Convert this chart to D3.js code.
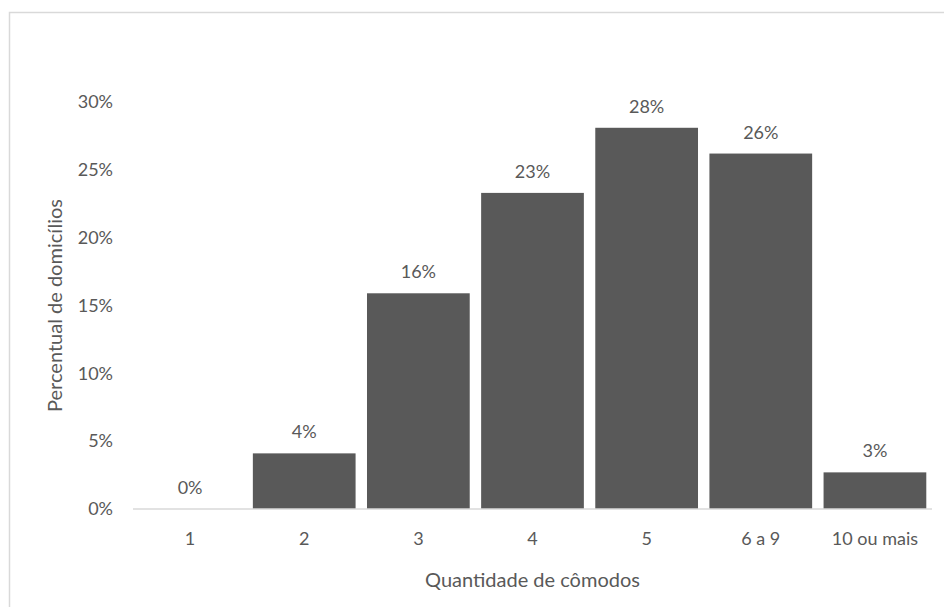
<!DOCTYPE html>
<html>
<head>
<meta charset="utf-8">
<script src="https://cdn.jsdelivr.net/npm/d3@7"></script>
<style>
  html, body { margin: 0; padding: 0; background: #fff; }
  svg { display: block; }
  text { font-family: Lato, "Open Sans", sans-serif; fill: #595959; }
</style>
</head>
<body>
<svg id="chart" width="944" height="607"></svg>
<script>
// Distribution of households by number of rooms
const categories = ["1", "2", "3", "4", "5", "6 a 9", "10 ou mais"];
const shares = [0.0, 4.1, 15.9, 23.3, 28.1, 26.2, 2.7];
const labels = ["0%", "4%", "16%", "23%", "28%", "26%", "3%"];
const yTicks = [0, 5, 10, 15, 20, 25, 30];

const svg = d3.select("#chart");
const margin = { left: 133, right: 12, top: 102, bottom: 98 };
const W = 944, H = 607;
const FONT = "Lato, 'Open Sans', sans-serif";

// chart frame
svg.append("rect")
  .attr("x", 9.5).attr("y", 12.5)
  .attr("width", W).attr("height", H)
  .attr("fill", "none").attr("stroke", "#d9d9d9").attr("stroke-width", 1.5);

const x = d3.scaleBand()
  .domain(categories)
  .range([margin.left, W - margin.right])
  .paddingInner(0.1).paddingOuter(0.05);

const y = d3.scaleLinear()
  .domain([0, 30])
  .range([H - margin.bottom, margin.top]);

// bars
svg.append("g").selectAll("rect")
  .data(categories)
  .join("rect")
  .attr("x", (d) => x(d))
  .attr("width", x.bandwidth())
  .attr("y", (d, i) => y(shares[i]))
  .attr("height", (d, i) => y(0) - y(shares[i]))
  .attr("fill", "#595959");

// value labels
svg.append("g").selectAll("text")
  .data(categories)
  .join("text")
  .attr("x", (d) => x(d) + x.bandwidth() / 2)
  .attr("y", (d, i) => y(shares[i]) - 15)
  .attr("text-anchor", "middle")
  .attr("font-size", 18)
  .text((d, i) => labels[i]);

// baseline
svg.append("line")
  .attr("x1", margin.left).attr("x2", W - margin.right)
  .attr("y1", y(0)).attr("y2", y(0))
  .attr("stroke", "#d9d9d9").attr("stroke-width", 1.5);

// y axis labels
const yAxis = d3.axisLeft(y)
  .tickValues(yTicks)
  .tickFormat((d) => d + "%")
  .tickSize(0)
  .tickPadding(20);
const gy = svg.append("g")
  .attr("transform", `translate(${margin.left},0)`)
  .call(yAxis);
gy.select(".domain").remove();
gy.selectAll("text")
  .attr("font-size", 18)
  .attr("font-family", FONT)
  .attr("fill", "#595959");

// x axis labels
const xAxis = d3.axisBottom(x).tickSize(0).tickPadding(23);
const gx = svg.append("g")
  .attr("transform", `translate(0,${y(0)})`)
  .call(xAxis);
gx.select(".domain").remove();
gx.selectAll("text")
  .attr("font-size", 18)
  .attr("font-family", FONT)
  .attr("fill", "#595959");

// axis titles
svg.append("text")
  .attr("x", (margin.left + W - margin.right) / 2)
  .attr("y", 587)
  .attr("text-anchor", "middle")
  .attr("font-size", 20)
  .text("Quantidade de cômodos");

svg.append("text")
  .attr("transform", `translate(62,${(y(0) + y(30)) / 2}) rotate(-90)`)
  .attr("text-anchor", "middle")
  .attr("font-size", 20)
  .text("Percentual de domicílios");
</script>
</body>
</html>
